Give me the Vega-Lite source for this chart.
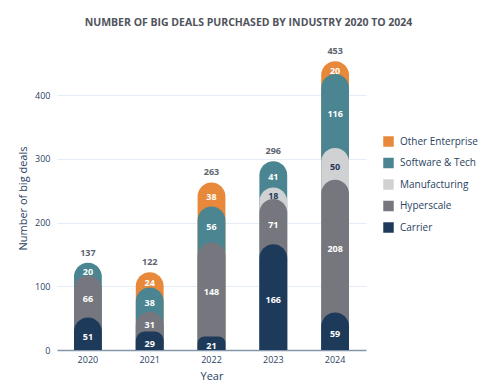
{
  "$schema": "https://vega.github.io/schema/vega-lite/v6.json",
  "autosize": {"type": "none"},
  "width": 309,
  "height": 304,
  "padding": {"left": 57, "top": 46, "right": 134, "bottom": 37},
  "background": "white",
  "config": {
    "font": "Open Sans",
    "view": {"stroke": null}
  },
  "title": {
    "text": "NUMBER OF BIG DEALS PURCHASED BY INDUSTRY 2020 TO 2024",
    "font": "Open Sans",
    "fontSize": 10.5,
    "fontWeight": "bold",
    "color": "#50545c",
    "anchor": "middle",
    "dx": 37,
    "offset": 18
  },
  "data": {
    "values": [
      {"year": "2020", "industry": "Carrier", "ord": 1, "n": 51},
      {"year": "2020", "industry": "Hyperscale", "ord": 2, "n": 66},
      {"year": "2020", "industry": "Software & Tech", "ord": 4, "n": 20},
      {"year": "2021", "industry": "Carrier", "ord": 1, "n": 29},
      {"year": "2021", "industry": "Hyperscale", "ord": 2, "n": 31},
      {"year": "2021", "industry": "Software & Tech", "ord": 4, "n": 38},
      {"year": "2021", "industry": "Other Enterprise", "ord": 5, "n": 24},
      {"year": "2022", "industry": "Carrier", "ord": 1, "n": 21},
      {"year": "2022", "industry": "Hyperscale", "ord": 2, "n": 148},
      {"year": "2022", "industry": "Software & Tech", "ord": 4, "n": 56},
      {"year": "2022", "industry": "Other Enterprise", "ord": 5, "n": 38},
      {"year": "2023", "industry": "Carrier", "ord": 1, "n": 166},
      {"year": "2023", "industry": "Hyperscale", "ord": 2, "n": 71},
      {"year": "2023", "industry": "Manufacturing", "ord": 3, "n": 18},
      {"year": "2023", "industry": "Software & Tech", "ord": 4, "n": 41},
      {"year": "2024", "industry": "Carrier", "ord": 1, "n": 59},
      {"year": "2024", "industry": "Hyperscale", "ord": 2, "n": 208},
      {"year": "2024", "industry": "Manufacturing", "ord": 3, "n": 50},
      {"year": "2024", "industry": "Software & Tech", "ord": 4, "n": 116},
      {"year": "2024", "industry": "Other Enterprise", "ord": 5, "n": 20}
    ]
  },
  "transform": [
    {"stack": "n", "groupby": ["year"], "sort": [{"field": "ord", "order": "ascending"}], "as": ["y0", "y1"]},
    {"calculate": "(datum.y0 + datum.y1) / 2", "as": "mid"}
  ],
  "encoding": {
    "x": {
      "field": "year",
      "type": "ordinal",
      "scale": {"paddingInner": 0.55, "paddingOuter": 0.275},
      "axis": {
        "title": "Year",
        "labelAngle": 0,
        "labelFontSize": 9,
        "labelColor": "#2a3f5f",
        "labelPadding": 5,
        "ticks": false,
        "domainColor": "#8496ad",
        "domainWidth": 1.5,
        "titleFontSize": 11,
        "titleFontWeight": "normal",
        "titleColor": "#2a3f5f",
        "titlePadding": 6
      }
    }
  },
  "layer": [
    {
      "mark": {"type": "bar", "cornerRadiusTopLeft": 14, "cornerRadiusTopRight": 14},
      "encoding": {
        "y": {
          "field": "y1",
          "type": "quantitative",
          "scale": {"domain": [0, 477], "nice": false},
          "axis": {
            "title": "Number of big deals",
            "values": [0, 100, 200, 300, 400],
            "labelFontSize": 9,
            "labelColor": "#2a3f5f",
            "labelPadding": 7,
            "ticks": false,
            "domain": false,
            "gridColor": "#e6ecf4",
            "gridWidth": 1,
            "titleFontSize": 11,
            "titleFontWeight": "normal",
            "titleColor": "#2a3f5f",
            "titlePadding": 6
          }
        },
        "y2": {"datum": 0},
        "order": {"field": "y1", "type": "quantitative", "sort": "descending"},
        "color": {
          "field": "industry",
          "type": "nominal",
          "scale": {
            "domain": ["Other Enterprise", "Software & Tech", "Manufacturing", "Hyperscale", "Carrier"],
            "range": ["#e8883a", "#4a8591", "#d0d1d2", "#76777e", "#1e3a5b"]
          },
          "legend": {
            "title": null,
            "orient": "none",
            "legendX": 326,
            "legendY": 90,
            "symbolType": "square",
            "symbolSize": 110,
            "symbolStrokeWidth": 0,
            "labelFontSize": 10,
            "labelColor": "#2a3f5f",
            "labelOffset": 6,
            "rowPadding": 10.5
          }
        }
      }
    },
    {
      "mark": {"type": "text", "fontWeight": "bold", "fontSize": 9, "baseline": "middle", "dy": 3},
      "encoding": {
        "y": {"field": "mid", "type": "quantitative"},
        "text": {"field": "n", "type": "quantitative"},
        "color": {
          "condition": {"test": "datum.industry === 'Manufacturing'", "value": "#1e3a5b"},
          "value": "white"
        }
      }
    },
    {
      "transform": [{"aggregate": [{"op": "sum", "field": "n", "as": "total"}], "groupby": ["year"]}],
      "mark": {"type": "text", "fontWeight": "bold", "fontSize": 9, "baseline": "middle", "dy": -10, "color": "#606470"},
      "encoding": {
        "y": {"field": "total", "type": "quantitative"},
        "text": {"field": "total", "type": "quantitative"}
      }
    }
  ]
}
